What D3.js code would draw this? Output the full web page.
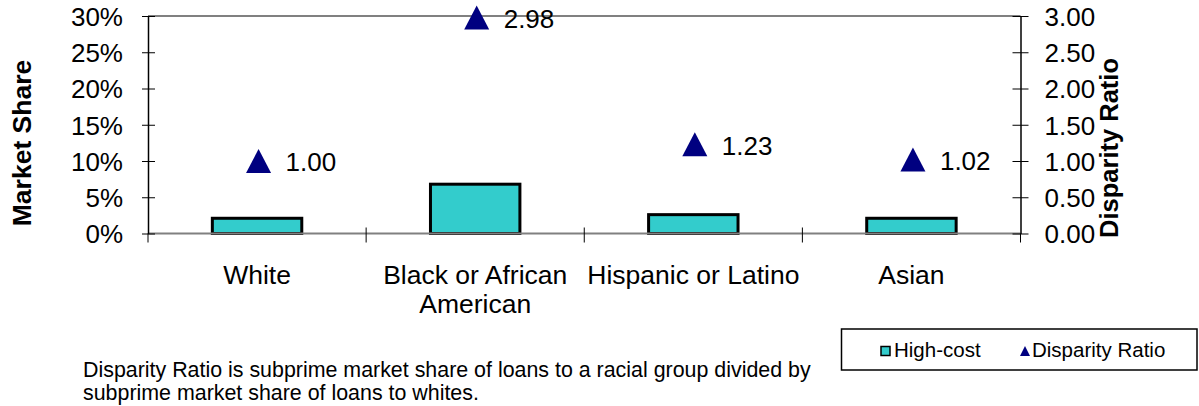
<!DOCTYPE html>
<html>
<head>
<meta charset="utf-8">
<script src="https://cdn.jsdelivr.net/npm/d3@7"></script>
<style>
  html, body { margin: 0; padding: 0; background: #fff; }
  svg { display: block; font-family: "Liberation Sans", Arial, sans-serif; }
</style>
</head>
<body>
<svg id="chart" width="1199" height="406"></svg>
<script>
// Racial groups on the x axis (with the line breaks used under the axis)
const categories = ["White", "Black or African American", "Hispanic or Latino", "Asian"];
const categoryLines = [["White"], ["Black or African", "American"], ["Hispanic or Latino"], ["Asian"]];

// High-cost loan market share (percent) per group
const highCost = [2.1, 6.8, 2.6, 2.1];

// Disparity ratio per group (relative to whites)
const disparityRatio = [1.00, 2.98, 1.23, 1.02];

// Axis tick values
const shareTicks = [0, 5, 10, 15, 20, 25, 30];
const ratioTicks = [0, 0.5, 1.0, 1.5, 2.0, 2.5, 3.0];

const legendLabels = ["High-cost", "Disparity Ratio"];
const footnoteLines = [
  "Disparity Ratio is subprime market share of loans to a racial group divided by",
  "subprime market share of loans to whites."
];

const svg = d3.select("#chart");

const plot = { left: 148, right: 1020.5, top: 16, bottom: 233.5 };

const x = d3.scaleBand()
  .domain(categories)
  .range([plot.left, plot.right])
  .paddingInner(0.59)
  .paddingOuter(0.295);

const xGroup = d3.scaleBand()
  .domain(categories)
  .range([plot.left, plot.right]);

const yShare = d3.scaleLinear().domain([0, 30]).range([plot.bottom, plot.top]);
const yRatio = d3.scaleLinear().domain([0, 3]).range([plot.bottom, plot.top]);

const teal = "#33CCCC";
const navy = "#000080";

// Upward triangle centred on (0,0)
function triangle(w, h) {
  const p = d3.path();
  p.moveTo(0, -h / 2);
  p.lineTo(w / 2, h / 2);
  p.lineTo(-w / 2, h / 2);
  p.closePath();
  return p.toString();
}

// Top and bottom frame lines of the plot area
svg.append("line")
  .attr("x1", plot.left).attr("x2", plot.right)
  .attr("y1", plot.top).attr("y2", plot.top)
  .attr("stroke", "#808080").attr("stroke-width", 2);

// Bars: high-cost market share
svg.append("g").selectAll("rect")
  .data(categories)
  .join("rect")
  .attr("x", d => x(d))
  .attr("width", x.bandwidth())
  .attr("y", (d, i) => yShare(highCost[i]))
  .attr("height", (d, i) => yShare(0) - yShare(highCost[i]))
  .attr("fill", teal)
  .attr("stroke", "#000")
  .attr("stroke-width", 3);

// Bottom axis line
svg.append("line")
  .attr("x1", plot.left).attr("x2", plot.right)
  .attr("y1", plot.bottom).attr("y2", plot.bottom)
  .attr("stroke", "#808080").attr("stroke-width", 2);

// Left axis (market share)
const leftAxis = svg.append("g")
  .attr("transform", `translate(${plot.left},0)`)
  .call(d3.axisLeft(yShare).tickValues(shareTicks).tickFormat(d => d + "%").tickSizeOuter(0));
leftAxis.select(".domain").attr("stroke", "#000").attr("stroke-width", 1.5);
leftAxis.selectAll(".tick line").attr("x1", -6).attr("x2", 7).attr("stroke", "#000");
leftAxis.selectAll(".tick text")
  .attr("x", -25).attr("dy", "0.36em")
  .attr("font-size", 26).attr("fill", "#000")
  .attr("font-family", "Liberation Sans, Arial, sans-serif");

// Right axis (disparity ratio)
const rightAxis = svg.append("g")
  .attr("transform", `translate(${plot.right},0)`)
  .call(d3.axisRight(yRatio).tickValues(ratioTicks).tickFormat(d3.format(".2f")).tickSizeOuter(0));
rightAxis.select(".domain").attr("stroke", "#000").attr("stroke-width", 1.5);
rightAxis.selectAll(".tick line").attr("x1", -8).attr("x2", 8).attr("stroke", "#000");
rightAxis.selectAll(".tick text")
  .attr("x", 24).attr("dy", "0.36em")
  .attr("font-size", 26).attr("fill", "#000")
  .attr("font-family", "Liberation Sans, Arial, sans-serif");

// Category separator ticks along the bottom axis
const sepTicks = categories.map(c => xGroup(c)).concat([plot.right]);
svg.append("g").selectAll("line")
  .data(sepTicks)
  .join("line")
  .attr("x1", d => d).attr("x2", d => d)
  .attr("y1", (d, i) => (i === 0 || i === sepTicks.length - 1) ? plot.bottom : plot.bottom - 6)
  .attr("y2", plot.bottom + 9)
  .attr("stroke", "#000").attr("stroke-width", 1);

// Category labels
const catLabels = svg.append("g").selectAll("text")
  .data(categories)
  .join("text")
  .attr("text-anchor", "middle")
  .attr("font-size", 26.5)
  .attr("fill", "#000")
  .attr("transform", d => `translate(${xGroup(d) + xGroup.bandwidth() / 2},284)`);
catLabels.each(function(d, i) {
  d3.select(this).selectAll("tspan")
    .data(categoryLines[i])
    .join("tspan")
    .attr("x", 0)
    .attr("y", (t, j) => j * 29)
    .text(t => t);
});

// Disparity ratio markers (triangles) with value labels
const markers = svg.append("g").selectAll("g")
  .data(categories)
  .join("g")
  .attr("transform", (d, i) => `translate(${xGroup(d) + xGroup.bandwidth() / 2 + 1.5},${yRatio(disparityRatio[i])})`);
markers.append("path")
  .attr("d", triangle(25, 24))
  .attr("fill", navy);
markers.append("text")
  .attr("x", 27)
  .attr("dy", "0.4em")
  .attr("font-size", 26)
  .attr("fill", "#000")
  .text((d, i) => d3.format(".2f")(disparityRatio[i]));

// Axis titles
svg.append("text")
  .attr("transform", `translate(31,${plot.top + 127}) rotate(-90)`)
  .attr("text-anchor", "middle")
  .attr("font-size", 26.5)
  .attr("font-weight", "bold")
  .attr("fill", "#000")
  .text("Market Share");

svg.append("text")
  .attr("transform", `translate(1118,${plot.top + 132}) rotate(-90)`)
  .attr("text-anchor", "middle")
  .attr("font-size", 25.5)
  .attr("font-weight", "bold")
  .attr("fill", "#000")
  .text("Disparity Ratio");

// Legend
const legend = svg.append("g");
legend.append("rect")
  .attr("x", 841.5).attr("y", 329)
  .attr("width", 355.5).attr("height", 41)
  .attr("fill", "#fff").attr("stroke", "#000").attr("stroke-width", 1.5);
legend.append("rect")
  .attr("x", 881).attr("y", 346.5)
  .attr("width", 9).attr("height", 9)
  .attr("fill", teal).attr("stroke", "#000").attr("stroke-width", 1.5);
legend.append("text")
  .attr("x", 894).attr("y", 357)
  .attr("font-size", 20.5).attr("fill", "#000")
  .text(legendLabels[0]);
legend.append("path")
  .attr("d", triangle(10, 10))
  .attr("transform", "translate(1025,351)")
  .attr("fill", navy);
legend.append("text")
  .attr("x", 1032).attr("y", 357)
  .attr("font-size", 20.5).attr("fill", "#000")
  .text(legendLabels[1]);

// Footnote
svg.append("g").selectAll("text")
  .data(footnoteLines)
  .join("text")
  .attr("x", 83)
  .attr("y", (d, i) => 377 + i * 23)
  .attr("font-size", 21.4)
  .attr("fill", "#000")
  .text(d => d);
</script>
</body>
</html>
